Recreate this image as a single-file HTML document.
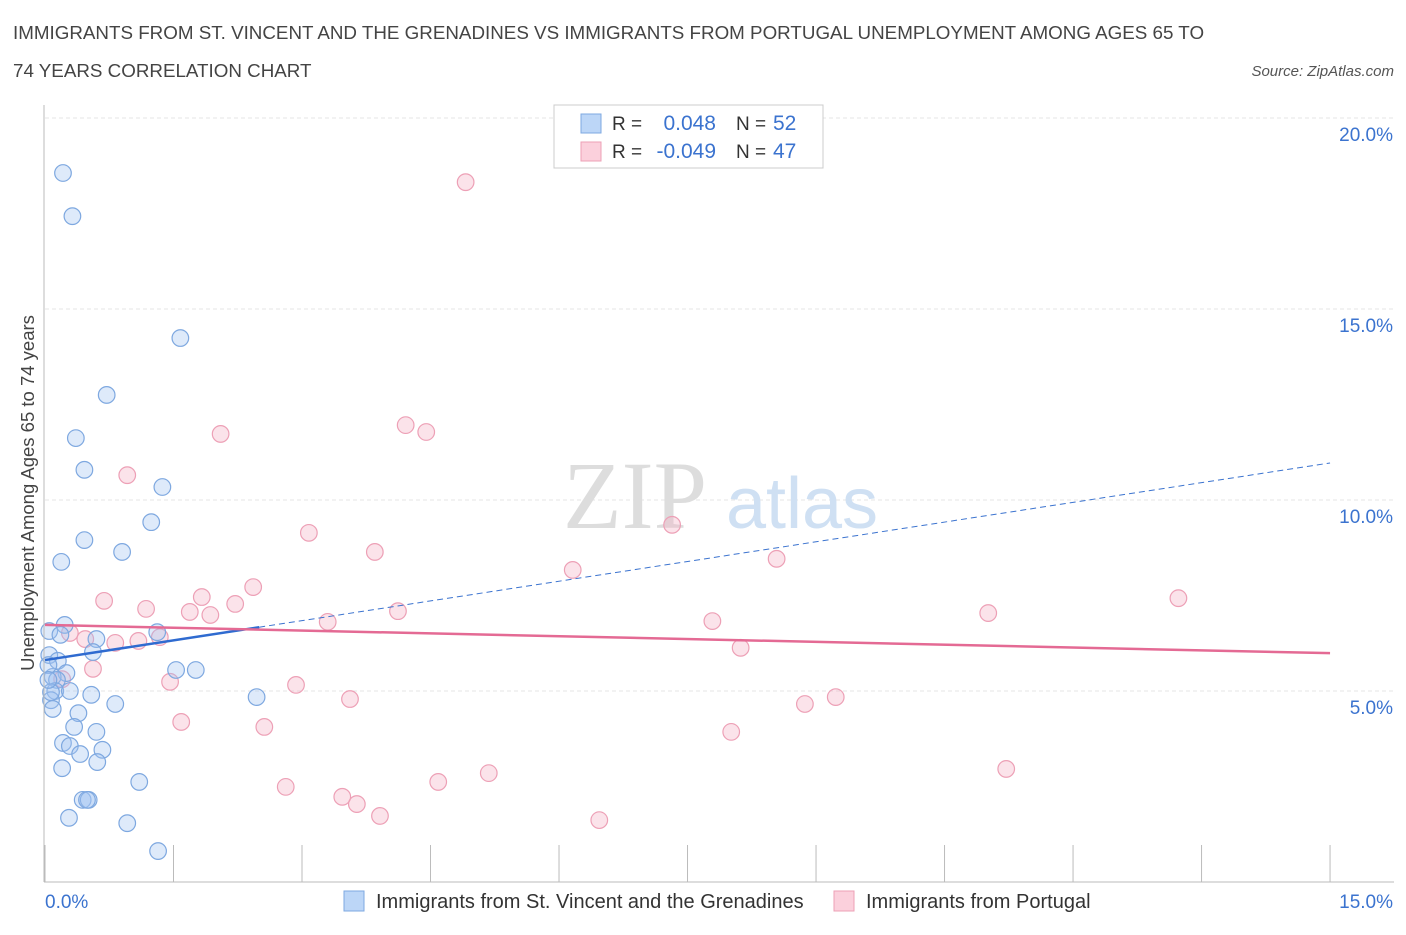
<!DOCTYPE html>
<html><head><meta charset="utf-8"><style>
body{margin:0;background:#fff;font-family:"Liberation Sans",sans-serif;}
</style></head><body>
<svg id="chart" width="1406" height="930" xmlns="http://www.w3.org/2000/svg">
<text x="13" y="39" font-size="18.8" fill="#444">IMMIGRANTS FROM ST. VINCENT AND THE GRENADINES VS IMMIGRANTS FROM PORTUGAL UNEMPLOYMENT AMONG AGES 65 TO</text>
<text x="13" y="77" font-size="18.8" fill="#444">74 YEARS CORRELATION CHART</text>
<text x="1394" y="76" font-size="15" fill="#555" font-style="italic" text-anchor="end">Source: ZipAtlas.com</text>
<g id="grid"></g>
<text x="635" y="528" font-size="96" fill="#ddd" font-family="Liberation Serif,serif" text-anchor="middle">ZIP</text>
<text x="802" y="528" font-size="72" fill="#cfe0f3" text-anchor="middle">atlas</text>
<g id="marks"></g>
<line x1="44" y1="105" x2="44" y2="882" stroke="#bbb"/>
<line x1="44" y1="882" x2="1394" y2="882" stroke="#bbb"/>
<text x="34" y="493" font-size="18.5" fill="#444" text-anchor="middle" transform="rotate(-90 34 493)">Unemployment Among Ages 65 to 74 years</text>
<text x="45" y="908" font-size="19" fill="#3b73cf">0.0%</text>
<text x="1393" y="908" font-size="19" fill="#3b73cf" text-anchor="end">15.0%</text>
<g>
<rect x="554" y="105" width="269" height="63" fill="#fff" stroke="#ccc"/>
<rect x="581" y="114" width="20" height="19" fill="#bcd6f7" stroke="#7ea8e0"/>
<rect x="581" y="142" width="20" height="19" fill="#fbd0dc" stroke="#eda0b6"/>
<text x="612" y="130" font-size="19" fill="#333">R = </text><text x="716" y="130" font-size="21" fill="#3b73cf" text-anchor="end">0.048</text>
<text x="736" y="130" font-size="19" fill="#333">N = </text><text x="773" y="130" font-size="21" fill="#3b73cf">52</text>
<text x="612" y="158" font-size="19" fill="#333">R = </text><text x="716" y="158" font-size="21" fill="#3b73cf" text-anchor="end">-0.049</text>
<text x="736" y="158" font-size="19" fill="#333">N = </text><text x="773" y="158" font-size="21" fill="#3b73cf">47</text>
</g>
<g>
<rect x="344" y="891" width="20" height="20" fill="#bcd6f7" stroke="#7ea8e0"/>
<text x="376" y="908" font-size="20" fill="#333">Immigrants from St. Vincent and the Grenadines</text>
<rect x="834" y="891" width="20" height="20" fill="#fbd0dc" stroke="#eda0b6"/>
<text x="866" y="908" font-size="20" fill="#333">Immigrants from Portugal</text>
</g>
</svg>
<script>
const yTicks=[5,10,15,20];
const yTickLabels=["5.0%","10.0%","15.0%","20.0%"];
const xTicks=[0,1.5,3,4.5,6,7.5,9,10.5,12,13.5,15];
const blueX=[0.21,0.32,1.58,0.72,0.36,0.46,1.37,1.24,0.46,0.90,0.19,0.23,0.05,0.18,0.60,1.31,0.56,0.05,0.15,1.53,1.76,0.25,0.09,0.14,0.12,0.29,0.54,0.07,0.82,0.09,0.39,0.34,0.60,0.21,0.29,0.67,0.41,0.61,0.20,2.47,1.10,0.44,0.51,0.49,0.28,0.96,1.32,0.04,0.07,0.04];
const blueY=[18.56,17.43,14.24,12.75,11.62,10.79,10.34,9.42,8.95,8.64,8.38,6.73,6.57,6.47,6.36,6.54,6.02,5.94,5.79,5.55,5.55,5.47,5.37,5.29,5.00,5.00,4.90,4.76,4.66,4.53,4.42,4.06,3.93,3.64,3.56,3.46,3.35,3.14,2.98,4.84,2.62,2.15,2.15,2.15,1.68,1.54,0.81,5.68,4.97,5.29];
const pinkX=[4.91,4.21,4.45,2.05,0.96,3.08,7.32,3.85,8.54,6.16,2.43,0.69,1.83,2.22,1.18,1.69,4.12,1.93,3.30,7.79,11.01,13.23,0.29,0.47,0.82,1.09,1.34,8.12,0.56,0.20,1.46,2.93,3.56,9.23,8.87,1.59,2.56,8.01,5.18,11.22,4.59,2.81,3.47,3.64,3.91,6.47];
const pinkY=[18.32,11.96,11.78,11.73,10.65,9.14,9.35,8.64,8.46,8.17,7.72,7.36,7.46,7.28,7.15,7.07,7.09,6.99,6.81,6.83,7.04,7.43,6.52,6.36,6.26,6.31,6.41,6.13,5.58,5.31,5.24,5.16,4.79,4.84,4.66,4.19,4.06,3.93,2.85,2.96,2.62,2.49,2.23,2.04,1.73,1.62];
const blueTrend=[5.81,10.97];
const blueSolidEnd=2.5;
const pinkTrend=[6.73,5.99];
const NS="http://www.w3.org/2000/svg";
const xs=v=>45+v*85.67, ys=v=>882-v*38.2;
const grid=document.getElementById('grid'), marks=document.getElementById('marks');
function mk(tag,attrs,parent){const e=document.createElementNS(NS,tag);for(const k in attrs)e.setAttribute(k,attrs[k]);parent.appendChild(e);return e;}
yTicks.forEach((t,i)=>{
 const l=mk('line',{x1:45,x2:1394,y1:ys(t),y2:ys(t),stroke:'#e4e4e4','stroke-dasharray':'4,3'},grid);
 
 
 const tx=mk('text',{x:1393,y:ys(t)+23,'font-size':19,fill:'#3b73cf','text-anchor':'end'},grid);
 tx.textContent=yTickLabels[i];
 
 
});
xTicks.forEach(t=>{
 const l=mk('line',{x1:xs(t),x2:xs(t),y1:845,y2:882,stroke:'#bbb'},grid);
 
 
});
function pts(X,Y,fill,stroke,name){X.forEach((x,i)=>{
 const c=mk('circle',{cx:xs(x),cy:ys(Y[i]),r:8.3,fill:fill,stroke:stroke,'stroke-width':1.2},marks);
 
 
});}
pts(pinkX,pinkY,'rgba(244,176,196,0.35)','#eda0b6','portugal-point');
pts(blueX,blueY,'rgba(160,196,240,0.35)','#7ea8e0','st-vincent-point');
const by=x=>blueTrend[0]+(blueTrend[1]-blueTrend[0])*x/15;
let l=mk('line',{x1:xs(blueSolidEnd),y1:ys(by(blueSolidEnd)),x2:xs(15),y2:ys(by(15)),stroke:'#3b73cf','stroke-width':1,'stroke-dasharray':'6,4'},marks);


l=mk('line',{x1:xs(0),y1:ys(by(0)),x2:xs(blueSolidEnd),y2:ys(by(blueSolidEnd)),stroke:'#2f6bd0','stroke-width':2.5},marks);


l=mk('line',{x1:xs(0),y1:ys(pinkTrend[0]),x2:xs(15),y2:ys(pinkTrend[1]),stroke:'#e46a94','stroke-width':2.5},marks);


</script>
</body></html>
